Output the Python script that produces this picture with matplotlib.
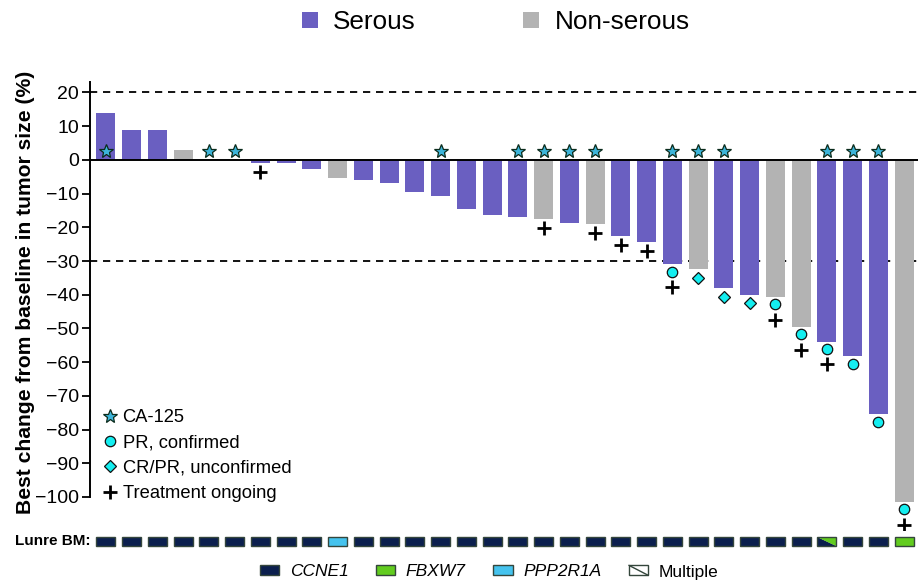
import matplotlib
matplotlib.use('Agg')
import matplotlib.pyplot as plt
from matplotlib.patches import Patch, Rectangle, Polygon
from matplotlib.lines import Line2D
from matplotlib.legend_handler import HandlerBase

plt.rcParams['font.family'] = ['Liberation Sans', 'DejaVu Sans']

# ---------------- data ----------------
change = [13.9, 8.9, 8.9, 3.0, 0.0, 0.0, -0.8, -0.8, -2.7, -5.3, -6.1, -6.8,
          -9.5, -10.7, -14.5, -16.3, -16.8, -17.4, -18.6, -18.9, -22.5, -24.3,
          -31.0, -32.3, -38.0, -40.0, -40.6, -49.5, -53.9, -58.2, -75.4, -101.4]
histology = ['S', 'S', 'S', 'N', 'S', 'S', 'S', 'S', 'S', 'N', 'S', 'S',
             'S', 'S', 'S', 'S', 'S', 'N', 'S', 'N', 'S', 'S',
             'S', 'N', 'S', 'S', 'N', 'N', 'S', 'S', 'S', 'N']
ca125 = [0, 4, 5, 13, 16, 17, 18, 19, 22, 23, 24, 28, 29, 30]
pr_confirmed = [22, 26, 27, 28, 29, 30, 31]
crpr_unconfirmed = [23, 24, 25]
ongoing = [6, 17, 19, 20, 21, 22, 26, 27, 28, 31]
biomarker = ['CCNE1'] * 9 + ['PPP2R1A'] + ['CCNE1'] * 18 + ['Multiple', 'CCNE1', 'CCNE1', 'FBXW7']
yticks = list(range(-100, 21, 10))
thresholds = [20, -30]

# ---------------- styles ----------------
PURPLE = '#6A5FC1'
GRAY = '#B3B3B3'
NAVY = '#0B1F4E'
GREEN = '#62CC1F'
LBLUE = '#45C3EE'
BOXEDGE = '#34463C'
CYAN = '#14EEF0'
STAR = '#3DB5DA'
bio_colors = {'CCNE1': NAVY, 'FBXW7': GREEN, 'PPP2R1A': LBLUE}

W, H = 918, 582
fig = plt.figure(figsize=(W / 100, H / 100), dpi=100)

ax = fig.add_axes([90 / W, 52 / H, 828 / W, 450 / H])
n = len(change)
x = list(range(n))
colors = [PURPLE if h == 'S' else GRAY for h in histology]
ax.bar(x, change, width=0.74, color=colors, zorder=2)

ax.set_xlim(-0.62, n - 1 + 0.54)
ax.set_ylim(-109.8, 23.7)
ax.axhline(0, color='black', lw=1.4, zorder=3)
for t in thresholds:
    ax.axhline(t, color='black', lw=1.3, ls=(0, (4, 3.2)), zorder=1)

for s in ['top', 'right', 'bottom']:
    ax.spines[s].set_visible(False)
ax.spines['left'].set_bounds(-100, 23)
ax.spines['left'].set_linewidth(1.4)
ax.set_xticks([])
ax.set_yticks(yticks)
ax.set_yticklabels([f'\u2212{abs(v)}' if v < 0 else str(v) for v in yticks])
ax.tick_params(axis='y', direction='out', length=6, width=1.3, labelsize=14, pad=2)
ax.set_ylabel('Best change from baseline in tumor size (%)', fontsize=15.2,
              fontweight='bold', va='center')
ax.yaxis.set_label_coords(-0.078, 0.529)

# markers
ax.plot(ca125, [2.7] * len(ca125), ls='', marker='*', ms=10.5, mfc=STAR,
        mec='#0B2B1B', mew=0.9, zorder=4)
ax.plot(pr_confirmed, [change[i] - 2.3 for i in pr_confirmed], ls='', marker='o',
        ms=7.5, mfc=CYAN, mec='#111111', mew=0.9, zorder=4)
ax.plot(crpr_unconfirmed, [change[i] - 2.6 for i in crpr_unconfirmed], ls='',
        marker='D', ms=6.5, mfc=CYAN, mec='#111111', mew=0.9, zorder=4)
resp = set(pr_confirmed) | set(crpr_unconfirmed)
ax.plot(ongoing, [change[i] - (6.8 if i in resp else 2.8) for i in ongoing], ls='',
        marker='+', ms=10, mec='black', mew=2, zorder=4)

mleg = ax.legend(
    handles=[Line2D([], [], ls='', marker='*', ms=10.5, mfc=STAR, mec='#0B2B1B', mew=0.9),
             Line2D([], [], ls='', marker='o', ms=7.5, mfc=CYAN, mec='#111111', mew=0.9),
             Line2D([], [], ls='', marker='D', ms=6.5, mfc=CYAN, mec='#111111', mew=0.9),
             Line2D([], [], ls='', marker='+', ms=10, mec='black', mew=2)],
    labels=['CA-125', 'PR, confirmed', 'CR/PR, unconfirmed', 'Treatment ongoing'],
    loc='upper left', bbox_to_anchor=(0.015, 0.268), frameon=False, fontsize=13.2,
    handlelength=0.8, handletextpad=0.3, labelspacing=0.45, borderpad=0, borderaxespad=0)

# biomarker row
bax = fig.add_axes([90 / W, (H - 548) / H, 828 / W, 14 / H])
bax.set_xlim(ax.get_xlim())
bax.set_ylim(0, 14)
bax.axis('off')
bw = 0.74
for i, b in enumerate(biomarker):
    x0, x1 = i - bw / 2, i + bw / 2
    if b == 'Multiple':
        bax.add_patch(Polygon([[x0, 2], [x0, 11], [x1, 2]], closed=True, facecolor=NAVY, lw=0))
        bax.add_patch(Polygon([[x0, 11], [x1, 11], [x1, 2]], closed=True, facecolor=GREEN, lw=0))
        bax.add_patch(Rectangle((x0, 2), bw, 9, facecolor='none', edgecolor=BOXEDGE, lw=1))
    else:
        bax.add_patch(Rectangle((x0, 2), bw, 9, facecolor=bio_colors[b], edgecolor=BOXEDGE, lw=1))

fig.text(15 / W, 1 - 541 / H, 'Lunre BM:', fontsize=11, fontweight='bold', va='center', ha='left')

# top legend
fig.legend(handles=[Patch(facecolor=PURPLE), Patch(facecolor=GRAY)],
           labels=['Serous', 'Non-serous'], loc='center', bbox_to_anchor=(0.540, 1 - 22 / H),
           ncol=2, frameon=False, fontsize=18.8, handlelength=0.6, handleheight=0.6,
           handletextpad=0.6, columnspacing=4.1, borderpad=0)


class MultiHandler(HandlerBase):
    def create_artists(self, legend, orig_handle, xdescent, ydescent, width, height, fontsize, trans):
        r = Rectangle((-xdescent, -ydescent), width, height, facecolor='white',
                      edgecolor=BOXEDGE, lw=1, transform=trans)
        ln = Line2D([-xdescent, -xdescent + width], [-ydescent + height, -ydescent],
                    color=BOXEDGE, lw=1, transform=trans)
        return [r, ln]


multi_handle = Patch(facecolor='white')
bleg = fig.legend(handles=[Patch(facecolor=NAVY, edgecolor=BOXEDGE),
                           Patch(facecolor=GREEN, edgecolor=BOXEDGE),
                           Patch(facecolor=LBLUE, edgecolor=BOXEDGE),
                           multi_handle],
                  labels=['CCNE1', 'FBXW7', 'PPP2R1A', 'Multiple'],
                  handler_map={multi_handle: MultiHandler()},
                  loc='center', bbox_to_anchor=(0.533, 1 - 572 / H), ncol=4, frameon=False,
                  fontsize=12.5, handlelength=1.1, handleheight=0.5, handletextpad=0.6,
                  columnspacing=1.6, borderpad=0)
for t in bleg.get_texts()[:3]:
    t.set_style('italic')

fig.savefig('out.png', dpi=100)
